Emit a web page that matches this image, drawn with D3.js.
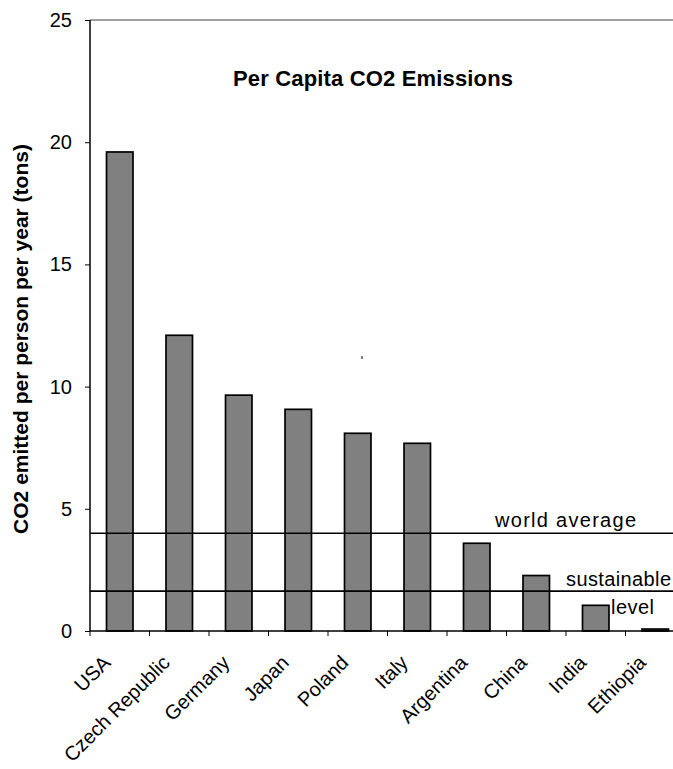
<!DOCTYPE html>
<html>
<head>
<meta charset="utf-8">
<script src="https://cdn.jsdelivr.net/npm/d3@7"></script>
<style>
  html, body { margin: 0; padding: 0; background: #fff; }
  svg { display: block; }
  text { font-family: "Liberation Sans", Arial, sans-serif; fill: #000; }
</style>
</head>
<body>
<div id="chart"></div>
<script>
const categories = ["USA", "Czech Republic", "Germany", "Japan", "Poland", "Italy", "Argentina", "China", "India", "Ethiopia"];
const emissions = [19.6, 12.1, 9.65, 9.07, 8.09, 7.68, 3.59, 2.27, 1.05, 0.08];
const yTicks = [0, 5, 10, 15, 20, 25];
const referenceLines = [
  { value: 4.0, label: ["world average"] },
  { value: 1.63, label: ["sustainable", "level"] }
];
const chartTitle = "Per Capita CO2 Emissions";
const yTitle = "CO2 emitted per person per year (tons)";

const W = 673, H = 769;
const mLeft = 90, mRight = 685, mTop = 20, mBottom = 631;

const svg = d3.select("#chart").append("svg").attr("width", W).attr("height", H);

const x = d3.scaleBand().domain(categories).range([mLeft, mRight]).padding(0);
const y = d3.scaleLinear().domain([0, 25]).range([mBottom, mTop]);
const bw = x.step() * 0.445;

// top border
svg.append("line").attr("x1", mLeft).attr("x2", mRight).attr("y1", y(25)).attr("y2", y(25))
  .attr("stroke", "#808080").attr("stroke-width", 1.5);

// bars
svg.append("g").selectAll("rect").data(categories).join("rect")
  .attr("x", d => x(d) + (x.step() - bw) / 2)
  .attr("y", (d, i) => y(emissions[i]))
  .attr("width", bw)
  .attr("height", (d, i) => y(0) - y(emissions[i]))
  .attr("fill", "#808080").attr("stroke", "#000").attr("stroke-width", 1.7);

// reference lines
referenceLines.forEach(r => {
  svg.append("line").attr("x1", mLeft).attr("x2", mRight)
    .attr("y1", y(r.value)).attr("y2", y(r.value))
    .attr("stroke", "#000").attr("stroke-width", 1.6);
});
svg.append("text").attr("x", 495).attr("y", y(referenceLines[0].value) - 6)
  .attr("font-size", 20).attr("textLength", 141).attr("lengthAdjust", "spacing")
  .text(referenceLines[0].label[0]);
svg.append("text").attr("x", 566).attr("y", y(referenceLines[1].value) - 5)
  .attr("font-size", 20).attr("textLength", 105).attr("lengthAdjust", "spacing")
  .text(referenceLines[1].label[0]);
svg.append("text").attr("x", 611).attr("y", y(referenceLines[1].value) + 23)
  .attr("font-size", 20).attr("textLength", 43).attr("lengthAdjust", "spacing")
  .text(referenceLines[1].label[1]);

// stray mark
svg.append("line").attr("x1", 362).attr("x2", 362).attr("y1", 356).attr("y2", 359)
  .attr("stroke", "#000").attr("stroke-width", 1);

// y axis
const yAxis = d3.axisLeft(y).tickValues(yTicks).tickSize(5).tickPadding(13);
const gy = svg.append("g").attr("transform", `translate(${mLeft},0)`).call(yAxis);
gy.select(".domain").attr("stroke", "#000").attr("stroke-width", 1.5).attr("d", `M0,${mTop}V${mBottom}`);
gy.selectAll(".tick line").attr("stroke", "#000").attr("stroke-width", 1);
gy.selectAll(".tick text").attr("font-size", 20).attr("font-family", "Liberation Sans, Arial, sans-serif");

// x axis: ticks at band boundaries
const gx = svg.append("g").attr("transform", `translate(0,${mBottom})`);
gx.append("line").attr("x1", mLeft).attr("x2", mRight).attr("y1", 0).attr("y2", 0)
  .attr("stroke", "#000").attr("stroke-width", 1.5);
gx.selectAll("line.tk").data(categories).join("line").attr("class", "tk")
  .attr("x1", d => x(d)).attr("x2", d => x(d)).attr("y1", 0).attr("y2", 5)
  .attr("stroke", "#000").attr("stroke-width", 1);
gx.selectAll("text").data(categories).join("text")
  .attr("transform", d => `translate(${x(d) + x.bandwidth() / 2 - 13},28) rotate(-45)`)
  .attr("text-anchor", "end").attr("dy", "0.35em")
  .attr("font-size", 20).text(d => d);

// titles
svg.append("text").attr("x", 373).attr("y", 86).attr("text-anchor", "middle")
  .attr("font-size", 22).attr("font-weight", "bold")
  .attr("textLength", 280).attr("lengthAdjust", "spacing").text(chartTitle);
svg.append("text").attr("transform", "translate(28,339) rotate(-90)").attr("text-anchor", "middle")
  .attr("font-size", 21).attr("font-weight", "bold").text(yTitle);
</script>
</body>
</html>
